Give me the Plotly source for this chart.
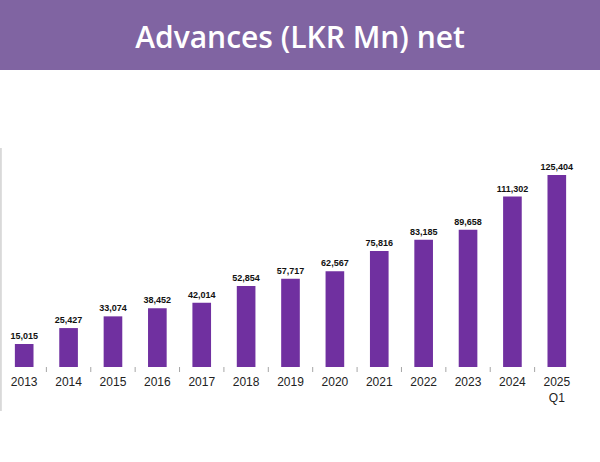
import plotly.graph_objects as go

categories = ["2013", "2014", "2015", "2016", "2017", "2018", "2019",
              "2020", "2021", "2022", "2023", "2024", "2025<br>Q1"]
advances = [15015, 25427, 33074, 38452, 42014, 52854, 57717,
            62567, 75816, 83185, 89658, 111302, 125404]
title_text = "Advances (LKR Mn) net"

fig = go.Figure()
fig.add_trace(go.Bar(
    x=list(range(len(categories))),
    y=advances,
    marker=dict(color="#7030a0", line=dict(width=0)),
    text=[f"{v:,}" for v in advances],
    textposition="outside",
    constraintext="none",
    textfont=dict(family="Liberation Sans Narrow, Liberation Sans, Arial", size=9,
                  color="#111111", weight="bold"),
    cliponaxis=False,
    width=0.42,
))

H, W = 462, 600
top, bottom = 148, 367
ph = bottom - top

def py(pix):
    return (bottom - pix) / ph

fig.update_layout(
    width=W, height=H,
    margin=dict(l=2, r=21, t=top, b=H - bottom),
    paper_bgcolor="white", plot_bgcolor="white",
    showlegend=False,
    title=dict(text=title_text, x=0.5, xref="container", xanchor="center",
               y=1 - 37 / H, yref="container", yanchor="middle",
               font=dict(family="Open Sans, Noto Sans, Arial", size=30, color="white",
                         weight=600)),
    xaxis=dict(
        tickmode="array", tickvals=list(range(len(categories))), ticktext=categories,
        range=[-0.5, len(categories) - 0.5],
        showgrid=False, zeroline=False, showline=False,
        ticks="", ticklabelstandoff=6,
        tickfont=dict(family="Liberation Sans, Arial", size=12, color="#222222"),
    ),
    yaxis=dict(range=[0, 125404 * ph / 192], visible=False, showgrid=False, zeroline=False),
    shapes=[
        dict(type="rect", xref="paper", yref="paper", x0=-0.01, x1=1.05,
             y0=py(70), y1=py(0), fillcolor="#8064a2", line=dict(width=0), layer="below"),
        dict(type="line", xref="paper", yref="paper", x0=-0.002, x1=-0.002,
             y0=py(148), y1=py(411), line=dict(color="#d9d9d9", width=2)),
    ] + [
        dict(type="line", xref="x", yref="paper", x0=i + 0.5, x1=i + 0.5,
             y0=0, y1=py(372), line=dict(color="#a6a6a6", width=1))
        for i in range(len(categories) - 1)
    ],
)

fig.write_html("out.html")
